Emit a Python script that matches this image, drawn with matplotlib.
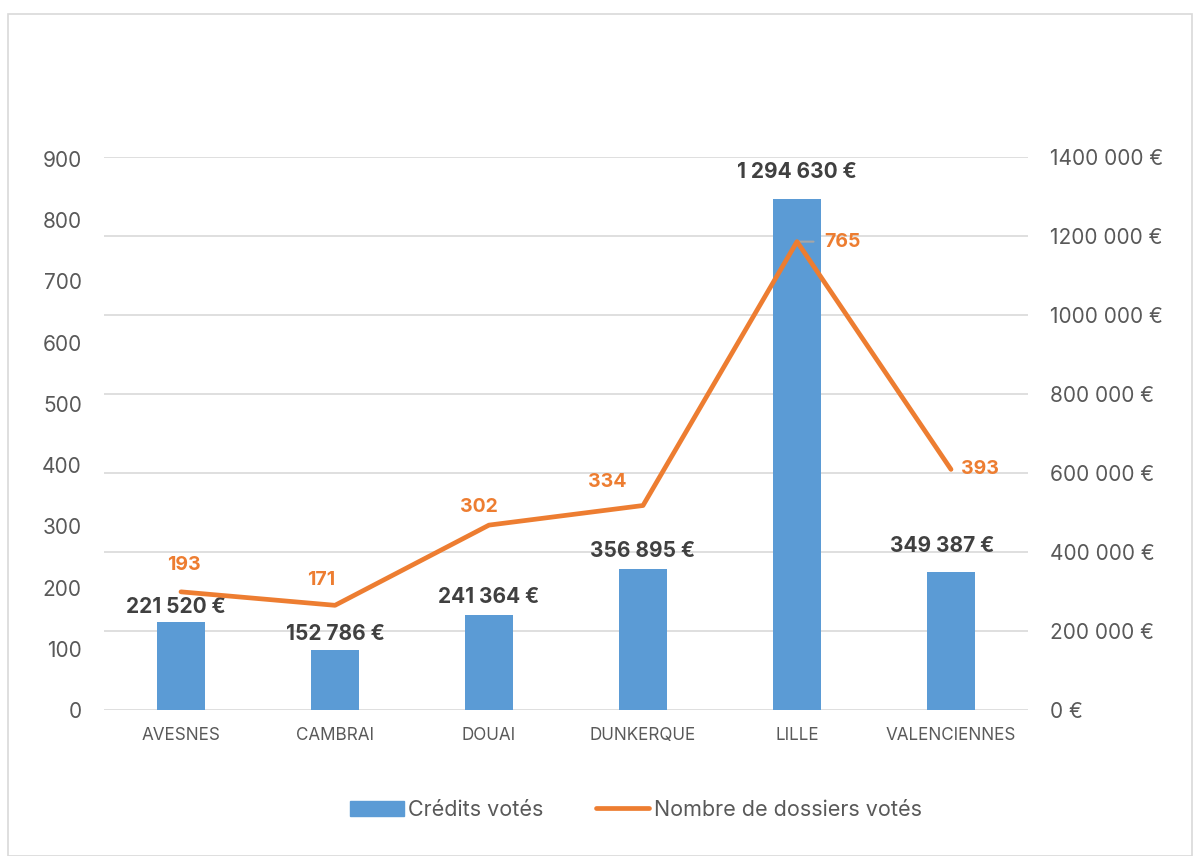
import matplotlib.pyplot as plt
from matplotlib.patches import Rectangle, Patch
from matplotlib.lines import Line2D
import numpy as np

plt.rcParams['font.family'] = ['Inter', 'DejaVu Sans']

villes = ['AVESNES', 'CAMBRAI', 'DOUAI', 'DUNKERQUE', 'LILLE', 'VALENCIENNES']
credits = [221520, 152786, 241364, 356895, 1294630, 349387]
dossiers = [193, 171, 302, 334, 765, 393]

left_ticks = [0, 100, 200, 300, 400, 500, 600, 700, 800, 900]
right_ticks = [0, 200000, 400000, 600000, 800000, 1000000, 1200000, 1400000]

# label offsets (points), as placed in the original
credit_off = [(-4, 11), (0, 11), (0, 13), (0, 13), (0, 19.5), (-6, 19)]
dossier_off = [(2, 19), (-10, 18), (-7, 13), (-26, 17), (33, 0), (21, 0)]

blue = '#5B9BD5'
orange = '#ED7D31'
grey = '#595959'


def euros(v):
    return f'{v:,}'.replace(',', ' ') + ' €'


def tick_euros(v):
    # Excel writes the axis as "1400 000 €"
    if v >= 1000:
        return f'{v // 1000} {v % 1000:03d} €'
    return f'{v} €'


fig = plt.figure(figsize=(12, 8.56), dpi=100)
fig.patches.append(Rectangle((8 / 1200, 0), 1184 / 1200, 842 / 856, transform=fig.transFigure,
                             fill=False, edgecolor='#D9D9D9', linewidth=1.2))

ax = fig.add_axes([104 / 1200, 146 / 856, 924 / 1200, 553 / 856])
ax2 = ax.twinx()
x = np.arange(len(villes))

# bars on the secondary axis (euros), gridlines from it
ax2.bar(x, credits, width=0.31, color=blue, zorder=2)
ax2.set_ylim(0, 1400000)
ax2.set_yticks(right_ticks)
ax2.set_yticklabels([tick_euros(t) for t in right_ticks])
ax2.grid(axis='y', color='#D9D9D9', linewidth=1.2, zorder=0)
ax2.set_axisbelow(True)
for i, v in enumerate(credits):
    ax2.annotate(euros(v), (x[i], v), xytext=credit_off[i], textcoords='offset points',
                 ha='center', va='center', fontsize=15, fontweight='bold', color='#404040')

# line on the primary axis, drawn on top
ax.set_zorder(ax2.get_zorder() + 1)
ax.patch.set_visible(False)
ax.plot(x, dossiers, color=orange, linewidth=3.4, solid_capstyle='round', zorder=3)
ax.set_ylim(0, 900 * 555 / 553)
ax.set_yticks(left_ticks)
for i, v in enumerate(dossiers):
    arrow = None
    if villes[i] == 'LILLE':
        arrow = dict(arrowstyle='-', color='#A6A6A6', lw=1.5, shrinkA=6, shrinkB=0)
    ax.annotate(str(v), (x[i], v), xytext=dossier_off[i], textcoords='offset points',
                ha='center', va='center', fontsize=14, fontweight='bold', color=orange,
                arrowprops=arrow, zorder=2)

ax.set_xlim(-0.5, len(villes) - 0.5)
ax.set_xticks(x)
ax.set_xticklabels(villes)

for a in (ax, ax2):
    for s in a.spines.values():
        s.set_visible(False)
ax.tick_params(axis='y', length=0, pad=16, labelsize=15, labelcolor=grey)
ax.tick_params(axis='x', length=0, pad=12, labelsize=12.3, labelcolor=grey)
ax2.tick_params(axis='y', length=0, pad=16, labelsize=15, labelcolor=grey)

handles = [Patch(color=blue), Line2D([0], [0], color=orange, linewidth=3.4, solid_capstyle='round')]
fig.legend(handles, ['Crédits votés', 'Nombre de dossiers votés'], loc='center',
           bbox_to_anchor=(0.53, 46 / 856), ncol=2, frameon=False, fontsize=15.5,
           labelcolor=grey, handlelength=2.5, handletextpad=0.2, columnspacing=2.4)

fig.savefig('out.png', dpi=100)
